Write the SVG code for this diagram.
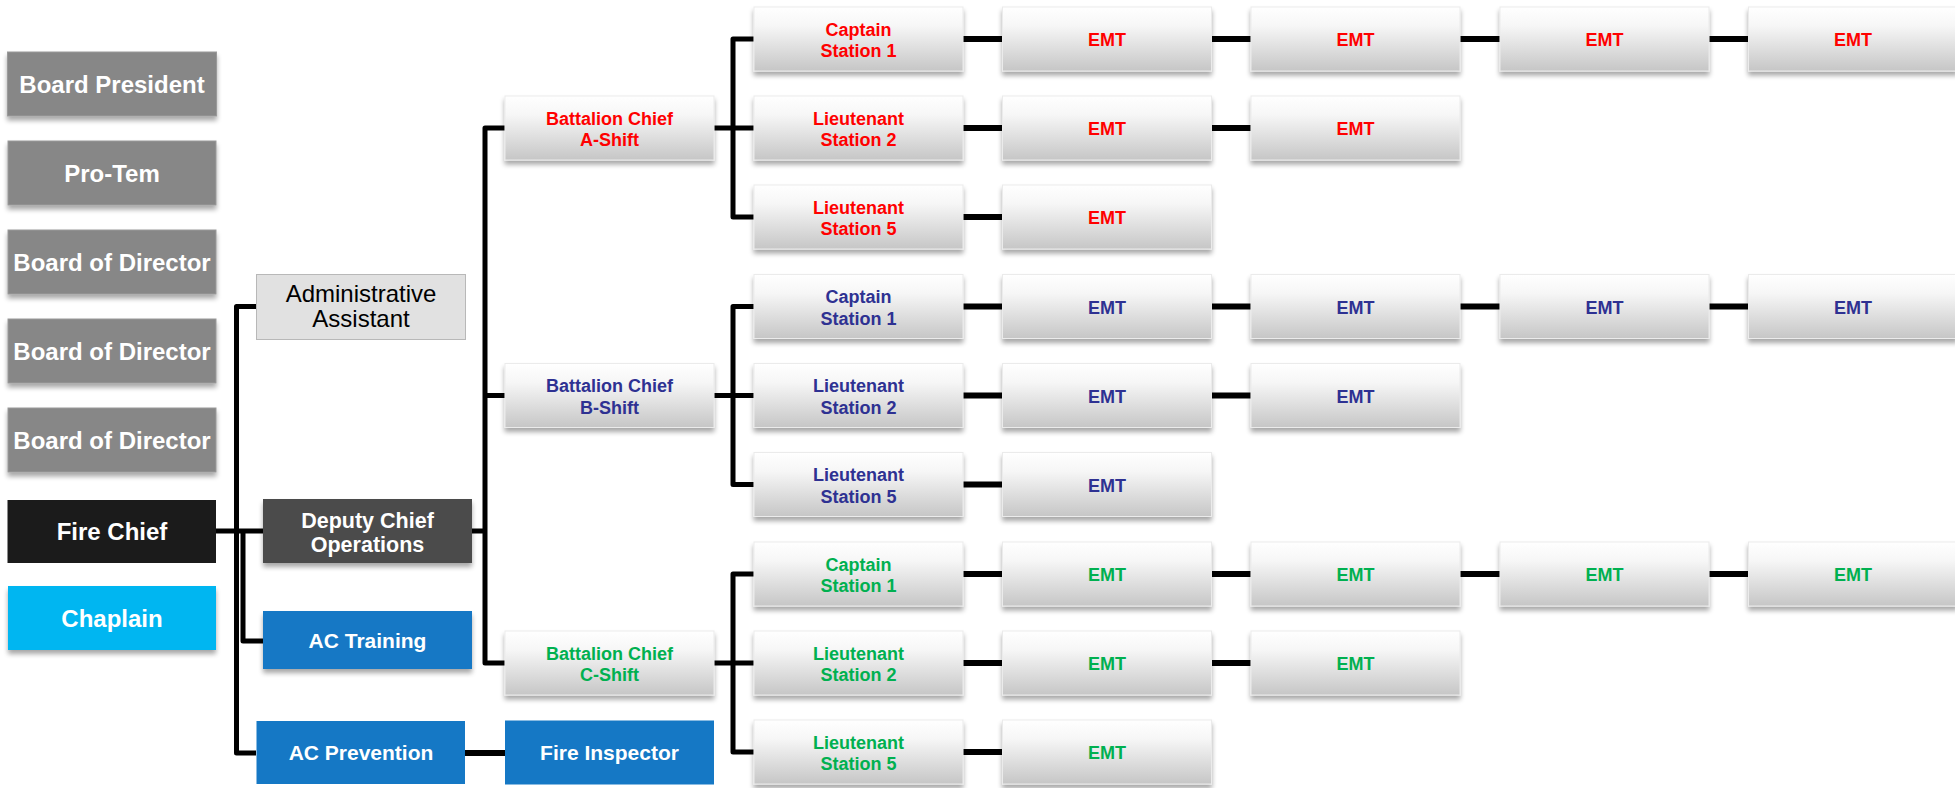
<svg xmlns="http://www.w3.org/2000/svg" width="1955" height="788" viewBox="0 0 1955 788">
<defs>
<linearGradient id="grad" x1="0" y1="0" x2="0" y2="1">
<stop offset="0" stop-color="#ffffff"/>
<stop offset="0.3" stop-color="#f6f6f6"/>
<stop offset="1" stop-color="#c6c6c6"/>
</linearGradient>
<filter id="sh" x="-10%" y="-20%" width="120%" height="150%">
<feGaussianBlur in="SourceAlpha" stdDeviation="2.5"/>
<feOffset dx="0" dy="4" result="b"/>
<feComponentTransfer><feFuncA type="linear" slope="0.35"/></feComponentTransfer>
<feMerge><feMergeNode/><feMergeNode in="SourceGraphic"/></feMerge>
</filter>
</defs>
<style>
text{font-family:"Liberation Sans",Arial,Helvetica,sans-serif;text-anchor:middle}
.b{font-weight:bold}
.w{fill:#ffffff;font-size:24px;font-weight:bold}
.w2{fill:#ffffff;font-size:21px;font-weight:bold}
.gbox{fill:url(#grad);stroke:#ebebeb;stroke-width:1;filter:url(#sh)}
.gray{fill:#878787;stroke:#9a9a9a;stroke-width:1;filter:url(#sh)}
.red{fill:#ff0000;font-size:18px;font-weight:bold}
.blue{fill:#2e3192;font-size:18px;font-weight:bold}
.green{fill:#00b050;font-size:18px;font-weight:bold}
.ln{fill:none;stroke:#000;stroke-width:5;stroke-linejoin:round}
.rw{fill:none;stroke:#000;stroke-width:6}
</style>
<rect width="1955" height="788" fill="#ffffff"/>
<g id="connectors">
<path class="ln" d="M256,306.5 H236.5 V753 H256"/>
<path class="ln" d="M216,531 H263"/>
<path class="ln" d="M243,531 V641 H263"/>
<path class="rw" d="M465,753 H505"/>
<path class="ln" d="M472,531 H485"/>
<path class="ln" d="M505,128 H485 V663 H505"/>
<path class="ln" d="M485,395.5 H505"/>
<path class="ln" d="M754,39 H733 V217 H754"/>
<path class="ln" d="M714,128 H754"/>
<path class="ln" d="M754,306.5 H733 V484.5 H754"/>
<path class="ln" d="M714,395.5 H754"/>
<path class="ln" d="M754,574 H733 V752 H754"/>
<path class="ln" d="M714,663 H754"/>
<path class="rw" d="M963,39 H1749"/>
<path class="rw" d="M963,128 H1251"/>
<path class="rw" d="M963,217 H1003"/>
<path class="rw" d="M963,306.5 H1749"/>
<path class="rw" d="M963,395.5 H1251"/>
<path class="rw" d="M963,484.5 H1003"/>
<path class="rw" d="M963,574 H1749"/>
<path class="rw" d="M963,663 H1251"/>
<path class="rw" d="M963,752 H1003"/>
</g>
<g id="board-president"><rect class="gray" x="7.5" y="52" width="209" height="64"/><text class="w" x="112" y="93">Board President</text></g>
<g id="pro-tem"><rect class="gray" x="8" y="141" width="208" height="64"/><text class="w" x="112" y="182">Pro-Tem</text></g>
<g id="board-director-1"><rect class="gray" x="8" y="230" width="208" height="64"/><text class="w" x="112" y="271">Board of Director</text></g>
<g id="board-director-2"><rect class="gray" x="8" y="319" width="208" height="64"/><text class="w" x="112" y="360">Board of Director</text></g>
<g id="board-director-3"><rect class="gray" x="8" y="408" width="208" height="64"/><text class="w" x="112" y="449">Board of Director</text></g>
<g id="fire-chief"><rect x="7.5" y="500" width="208.5" height="63" fill="#1b1b1b"/><text class="w" x="112" y="540">Fire Chief</text></g>
<g id="chaplain"><rect x="8" y="586" width="208" height="64" fill="#00b6f1" filter="url(#sh)"/><text class="w" x="112" y="627">Chaplain</text></g>
<g id="admin-assistant"><rect x="256.5" y="274.5" width="209" height="65" fill="#e1e1e1" stroke="#b8b8b8" stroke-width="1"/><text x="361" y="301.5" font-size="24" fill="#000">Administrative</text><text x="361" y="326.5" font-size="24" fill="#000">Assistant</text></g>
<g id="deputy-chief"><rect x="263" y="499" width="209" height="64" fill="#4b4b4b" filter="url(#sh)"/><text class="w2" x="367.5" y="527.5" style="font-size:21.5px">Deputy Chief</text><text class="w2" x="367.5" y="552" style="font-size:21.5px">Operations</text></g>
<g id="ac-training"><rect x="263" y="611" width="209" height="58" fill="#1578c5" filter="url(#sh)"/><text class="w2" x="367.5" y="648">AC Training</text></g>
<g id="ac-prevention"><rect x="256.5" y="721" width="208.5" height="63" fill="#1578c5"/><text class="w2" x="361" y="760">AC Prevention</text></g>
<g id="fire-inspector"><rect x="505" y="720.5" width="209" height="64" fill="#1578c5"/><text class="w2" x="609.5" y="760">Fire Inspector</text></g>

<g id="bc-a"><rect class="gbox" x="505" y="96" width="209" height="64"/><text class="red" x="609.5" y="124.5">Battalion Chief</text><text class="red" x="609.5" y="146">A-Shift</text></g>
<g id="a-captain-1"><rect class="gbox" x="754" y="7" width="209" height="64"/><text class="red" x="858.5" y="35.5">Captain</text><text class="red" x="858.5" y="57">Station 1</text></g>
<g id="a-lt-2"><rect class="gbox" x="754" y="96" width="209" height="64"/><text class="red" x="858.5" y="124.5">Lieutenant</text><text class="red" x="858.5" y="146">Station 2</text></g>
<g id="a-lt-5"><rect class="gbox" x="754" y="185" width="209" height="64"/><text class="red" x="858.5" y="213.5">Lieutenant</text><text class="red" x="858.5" y="235">Station 5</text></g>
<g id="a-emt-1-1"><rect class="gbox" x="1002.5" y="7" width="209" height="64"/><text class="red" x="1107" y="46">EMT</text></g>
<g id="a-emt-1-2"><rect class="gbox" x="1251" y="7" width="209" height="64"/><text class="red" x="1355.5" y="46">EMT</text></g>
<g id="a-emt-1-3"><rect class="gbox" x="1500" y="7" width="209" height="64"/><text class="red" x="1604.5" y="46">EMT</text></g>
<g id="a-emt-1-4"><rect class="gbox" x="1748.5" y="7" width="209" height="64"/><text class="red" x="1853" y="46">EMT</text></g>
<g id="a-emt-2-1"><rect class="gbox" x="1002.5" y="96" width="209" height="64"/><text class="red" x="1107" y="135">EMT</text></g>
<g id="a-emt-2-2"><rect class="gbox" x="1251" y="96" width="209" height="64"/><text class="red" x="1355.5" y="135">EMT</text></g>
<g id="a-emt-3-1"><rect class="gbox" x="1002.5" y="185" width="209" height="64"/><text class="red" x="1107" y="224">EMT</text></g>

<g id="bc-b"><rect class="gbox" x="505" y="363.5" width="209" height="64"/><text class="blue" x="609.5" y="392">Battalion Chief</text><text class="blue" x="609.5" y="413.5">B-Shift</text></g>
<g id="b-captain-1"><rect class="gbox" x="754" y="274.5" width="209" height="64"/><text class="blue" x="858.5" y="303">Captain</text><text class="blue" x="858.5" y="324.5">Station 1</text></g>
<g id="b-lt-2"><rect class="gbox" x="754" y="363.5" width="209" height="64"/><text class="blue" x="858.5" y="392">Lieutenant</text><text class="blue" x="858.5" y="413.5">Station 2</text></g>
<g id="b-lt-5"><rect class="gbox" x="754" y="452.5" width="209" height="64"/><text class="blue" x="858.5" y="481">Lieutenant</text><text class="blue" x="858.5" y="502.5">Station 5</text></g>
<g id="b-emt-1-1"><rect class="gbox" x="1002.5" y="274.5" width="209" height="64"/><text class="blue" x="1107" y="313.5">EMT</text></g>
<g id="b-emt-1-2"><rect class="gbox" x="1251" y="274.5" width="209" height="64"/><text class="blue" x="1355.5" y="313.5">EMT</text></g>
<g id="b-emt-1-3"><rect class="gbox" x="1500" y="274.5" width="209" height="64"/><text class="blue" x="1604.5" y="313.5">EMT</text></g>
<g id="b-emt-1-4"><rect class="gbox" x="1748.5" y="274.5" width="209" height="64"/><text class="blue" x="1853" y="313.5">EMT</text></g>
<g id="b-emt-2-1"><rect class="gbox" x="1002.5" y="363.5" width="209" height="64"/><text class="blue" x="1107" y="402.5">EMT</text></g>
<g id="b-emt-2-2"><rect class="gbox" x="1251" y="363.5" width="209" height="64"/><text class="blue" x="1355.5" y="402.5">EMT</text></g>
<g id="b-emt-3-1"><rect class="gbox" x="1002.5" y="452.5" width="209" height="64"/><text class="blue" x="1107" y="491.5">EMT</text></g>

<g id="bc-c"><rect class="gbox" x="505" y="631" width="209" height="64"/><text class="green" x="609.5" y="659.5">Battalion Chief</text><text class="green" x="609.5" y="681">C-Shift</text></g>
<g id="c-captain-1"><rect class="gbox" x="754" y="542" width="209" height="64"/><text class="green" x="858.5" y="570.5">Captain</text><text class="green" x="858.5" y="592">Station 1</text></g>
<g id="c-lt-2"><rect class="gbox" x="754" y="631" width="209" height="64"/><text class="green" x="858.5" y="659.5">Lieutenant</text><text class="green" x="858.5" y="681">Station 2</text></g>
<g id="c-lt-5"><rect class="gbox" x="754" y="720" width="209" height="64"/><text class="green" x="858.5" y="748.5">Lieutenant</text><text class="green" x="858.5" y="770">Station 5</text></g>
<g id="c-emt-1-1"><rect class="gbox" x="1002.5" y="542" width="209" height="64"/><text class="green" x="1107" y="581">EMT</text></g>
<g id="c-emt-1-2"><rect class="gbox" x="1251" y="542" width="209" height="64"/><text class="green" x="1355.5" y="581">EMT</text></g>
<g id="c-emt-1-3"><rect class="gbox" x="1500" y="542" width="209" height="64"/><text class="green" x="1604.5" y="581">EMT</text></g>
<g id="c-emt-1-4"><rect class="gbox" x="1748.5" y="542" width="209" height="64"/><text class="green" x="1853" y="581">EMT</text></g>
<g id="c-emt-2-1"><rect class="gbox" x="1002.5" y="631" width="209" height="64"/><text class="green" x="1107" y="670">EMT</text></g>
<g id="c-emt-2-2"><rect class="gbox" x="1251" y="631" width="209" height="64"/><text class="green" x="1355.5" y="670">EMT</text></g>
<g id="c-emt-3-1"><rect class="gbox" x="1002.5" y="720" width="209" height="64"/><text class="green" x="1107" y="759">EMT</text></g>
</svg>
